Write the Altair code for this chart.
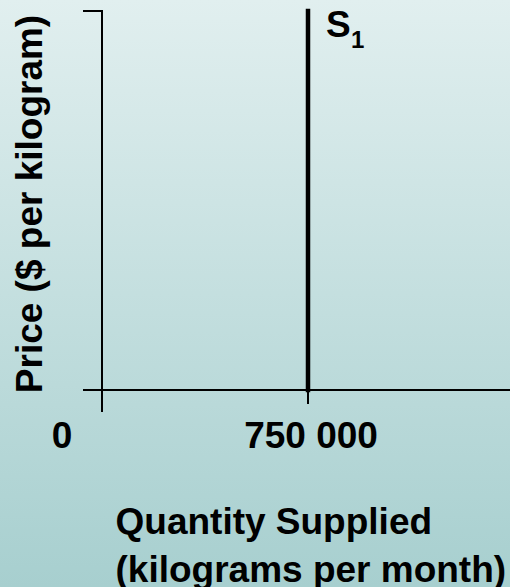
import altair as alt
import pandas as pd

# ---- chart content ----
quantity_ticks = [0, 750000]
tick_labels = ["0", "750 000"]
supply_quantity = [750000]
price_range = [0, 10]
supply_label = "S"
supply_sub = "1"
x_title = ["Quantity Supplied", "(kilograms per month)"]
y_title = "Price ($ per kilogram)"

# ---- layout (pixels) ----
W, H = 510, 587
X0_PX, XQ_PX = 102, 308      # pixel of quantity 0 and of 750 000
Y0_PX, YT_PX = 390, 11       # pixel of price 0 and of top of axis
q_per_px = (quantity_ticks[1] - quantity_ticks[0]) / (XQ_PX - X0_PX)
p_per_px = (price_range[1] - price_range[0]) / (Y0_PX - YT_PX)
x_dom = [-X0_PX * q_per_px, (W - X0_PX) * q_per_px]
y_dom = [-(H - Y0_PX) * p_per_px, price_range[1] + YT_PX * p_per_px]

xs = alt.Scale(domain=x_dom, nice=False, zero=False)
ys = alt.Scale(domain=y_dom, nice=False, zero=False)

FONT = "Liberation Sans"
left_ext = -18 * q_per_px

gradient = {
    "gradient": "linear", "x1": 0, "y1": 0, "x2": 0, "y2": 1,
    "stops": [
        {"offset": 0, "color": "#e1efef"},
        {"offset": 1, "color": "#a7cfcf"},
    ],
}

bg_df = pd.DataFrame({"x": [x_dom[0]], "x2": [x_dom[1]], "y": [y_dom[0]], "y2": [y_dom[1]]})
bg = alt.Chart(bg_df).mark_rect(color=gradient, strokeWidth=0).encode(
    x=alt.X("x:Q", scale=xs, axis=None),
    x2="x2:Q",
    y=alt.Y("y:Q", scale=ys, axis=None),
    y2="y2:Q",
)

axis_segments = pd.DataFrame({
    "x":  [left_ext, 0, left_ext, 0, quantity_ticks[1]],
    "x2": [x_dom[1], 0, 0, 0, quantity_ticks[1]],
    "y":  [0, 0, price_range[1], 0, 0],
    "y2": [0, price_range[1], price_range[1], -21 * p_per_px, -13 * p_per_px],
})

axes = alt.Chart(axis_segments).mark_rule(
    color="black", strokeWidth=2, strokeCap="square"
).encode(
    x=alt.X("x:Q", scale=xs, axis=None),
    x2="x2:Q",
    y=alt.Y("y:Q", scale=ys, axis=None),
    y2="y2:Q",
)

supply_df = pd.DataFrame({"q": supply_quantity, "p0": [price_range[0]], "p1": [price_range[1]]})
supply = alt.Chart(supply_df).mark_rule(
    color="black", strokeWidth=4.5, strokeCap="square"
).encode(
    x=alt.X("q:Q", scale=xs, axis=None),
    y=alt.Y("p0:Q", scale=ys, axis=None),
    y2="p1:Q",
)

lab_df = pd.DataFrame({"q": quantity_ticks, "lab": tick_labels, "p": [0, 0]})
lab0 = alt.Chart(lab_df.iloc[[0]]).mark_text(
    font=FONT, fontWeight="bold", fontSize=37, color="black",
    align="center", baseline="alphabetic", dx=-40, dy=58,
).encode(
    x=alt.X("q:Q", scale=xs, axis=None),
    y=alt.Y("p:Q", scale=ys, axis=None),
    text="lab:N",
)
lab1 = alt.Chart(lab_df.iloc[[1]]).mark_text(
    font=FONT, fontWeight="bold", fontSize=37, color="black",
    align="center", baseline="alphabetic", dx=3, dy=58,
).encode(
    x=alt.X("q:Q", scale=xs, axis=None),
    y=alt.Y("p:Q", scale=ys, axis=None),
    text="lab:N",
)

s_df = pd.DataFrame({"q": supply_quantity, "p": [price_range[1]],
                     "s": [supply_label], "sub": [supply_sub]})
s_main = alt.Chart(s_df).mark_text(
    font=FONT, fontWeight="bold", fontSize=37, color="black",
    align="left", baseline="alphabetic", dx=18, dy=26,
).encode(
    x=alt.X("q:Q", scale=xs, axis=None),
    y=alt.Y("p:Q", scale=ys, axis=None),
    text="s:N",
)
s_sub = alt.Chart(s_df).mark_text(
    font=FONT, fontWeight="bold", fontSize=24, color="black",
    align="left", baseline="alphabetic", dx=43, dy=37,
).encode(
    x=alt.X("q:Q", scale=xs, axis=None),
    y=alt.Y("p:Q", scale=ys, axis=None),
    text="sub:N",
)

ytitle = alt.Chart(pd.DataFrame({"t": [y_title]})).mark_text(
    font=FONT, fontWeight="bold", fontSize=37, color="black",
    align="center", baseline="alphabetic", angle=270,
).encode(x=alt.value(42), y=alt.value(204), text="t:N")

xtitle = alt.Chart(pd.DataFrame({"t": [x_title]})).mark_text(
    font=FONT, fontWeight="bold", fontSize=37, color="black",
    align="left", baseline="alphabetic", lineHeight=48,
).encode(x=alt.value(115.5), y=alt.value(534), text="t")

chart = alt.layer(
    bg, axes, supply, lab0, lab1, s_main, s_sub, ytitle, xtitle
).properties(
    width=W, height=H, padding=0,
    autosize=alt.AutoSizeParams(type="none"),
    background="#c4dfdf",
).configure_view(
    stroke="transparent", strokeWidth=0,
)

chart.save("out.html", embed_options={"renderer": "svg", "actions": False})
